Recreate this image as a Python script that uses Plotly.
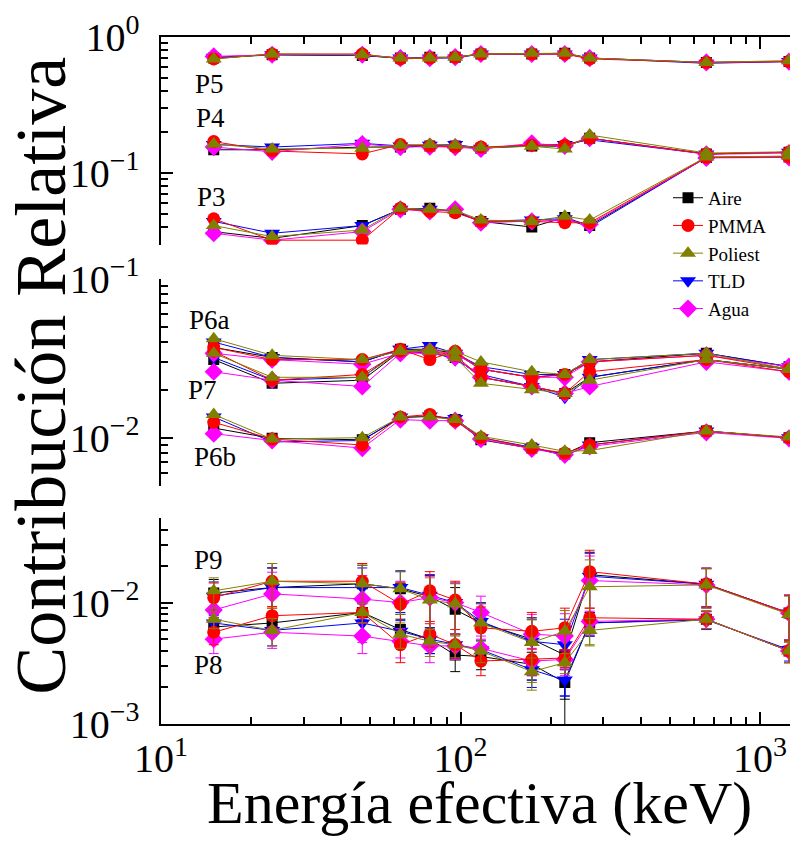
import math
import plotly.graph_objects as go

# ---------------- data ----------------
energy = [15, 23.5, 47, 63, 79, 96, 117, 173, 223, 270, 662, 1250]

materials = ["Aire", "PMMA", "Poliest", "TLD", "Agua"]

# P5
p5_aire    = [0.70, 0.74, 0.73, 0.70, 0.71, 0.71, 0.75, 0.75, 0.76, 0.70, 0.65, 0.66]
p5_pmma    = [0.69, 0.75, 0.75, 0.69, 0.70, 0.71, 0.75, 0.75, 0.75, 0.69, 0.65, 0.66]
p5_poliest = [0.69, 0.75, 0.74, 0.70, 0.70, 0.71, 0.75, 0.76, 0.76, 0.70, 0.65, 0.67]
p5_tld     = [0.71, 0.74, 0.73, 0.70, 0.70, 0.70, 0.75, 0.75, 0.75, 0.70, 0.64, 0.66]
p5_agua    = [0.72, 0.74, 0.74, 0.70, 0.70, 0.71, 0.75, 0.75, 0.75, 0.70, 0.65, 0.66]

# P4
p4_aire    = [0.148, 0.148, 0.155, 0.155, 0.158, 0.158, 0.152, 0.158, 0.157, 0.180, 0.138, 0.142]
p4_pmma    = [0.170, 0.145, 0.138, 0.162, 0.158, 0.156, 0.155, 0.160, 0.160, 0.180, 0.138, 0.142]
p4_poliest = [0.163, 0.150, 0.152, 0.160, 0.162, 0.160, 0.153, 0.157, 0.150, 0.190, 0.140, 0.143]
p4_tld     = [0.162, 0.155, 0.165, 0.158, 0.160, 0.162, 0.152, 0.160, 0.162, 0.175, 0.138, 0.142]
p4_agua    = [0.155, 0.143, 0.163, 0.155, 0.156, 0.155, 0.150, 0.165, 0.158, 0.180, 0.137, 0.140]

# P3
p3_aire    = [0.037, 0.033, 0.041, 0.054, 0.055, 0.052, 0.044, 0.040, 0.047, 0.041, 0.130, 0.131]
p3_pmma    = [0.046, 0.032, 0.032, 0.055, 0.052, 0.051, 0.044, 0.044, 0.043, 0.043, 0.130, 0.131]
p3_poliest = [0.041, 0.034, 0.038, 0.055, 0.054, 0.053, 0.045, 0.044, 0.048, 0.045, 0.131, 0.133]
p3_tld     = [0.044, 0.036, 0.041, 0.054, 0.054, 0.052, 0.044, 0.045, 0.046, 0.040, 0.130, 0.131]
p3_agua    = [0.036, 0.032, 0.037, 0.054, 0.052, 0.054, 0.043, 0.044, 0.045, 0.042, 0.129, 0.130]

# P6a
p6a_aire    = [0.037, 0.032, 0.030, 0.036, 0.036, 0.034, 0.027, 0.024, 0.025, 0.030, 0.034, 0.028]
p6a_pmma    = [0.037, 0.031, 0.031, 0.036, 0.031, 0.035, 0.027, 0.024, 0.025, 0.030, 0.033, 0.027]
p6a_poliest = [0.042, 0.033, 0.031, 0.035, 0.036, 0.035, 0.030, 0.026, 0.025, 0.031, 0.034, 0.027]
p6a_tld     = [0.040, 0.032, 0.030, 0.036, 0.038, 0.034, 0.028, 0.025, 0.025, 0.031, 0.034, 0.028]
p6a_agua    = [0.034, 0.031, 0.029, 0.034, 0.035, 0.034, 0.027, 0.024, 0.024, 0.030, 0.033, 0.028]

# P7
p7_aire    = [0.031, 0.022, 0.023, 0.035, 0.034, 0.032, 0.024, 0.021, 0.019, 0.024, 0.031, 0.027]
p7_pmma    = [0.035, 0.023, 0.025, 0.035, 0.035, 0.033, 0.024, 0.021, 0.019, 0.026, 0.031, 0.026]
p7_poliest = [0.034, 0.024, 0.024, 0.035, 0.035, 0.032, 0.022, 0.020, 0.019, 0.023, 0.031, 0.027]
p7_tld     = [0.032, 0.023, 0.024, 0.036, 0.035, 0.031, 0.025, 0.021, 0.018, 0.024, 0.031, 0.027]
p7_agua    = [0.026, 0.023, 0.021, 0.034, 0.034, 0.032, 0.024, 0.021, 0.019, 0.021, 0.030, 0.026]

# P6b
p6b_aire    = [0.0115, 0.0099, 0.0097, 0.0133, 0.0137, 0.0130, 0.0097, 0.0086, 0.0079, 0.0093, 0.0110, 0.0100]
p6b_pmma    = [0.0125, 0.0098, 0.0090, 0.0135, 0.0140, 0.0128, 0.0100, 0.0086, 0.0080, 0.0090, 0.0110, 0.0100]
p6b_poliest = [0.0140, 0.0098, 0.0100, 0.0135, 0.0135, 0.0130, 0.0102, 0.0090, 0.0082, 0.0083, 0.0110, 0.0101]
p6b_tld     = [0.0135, 0.0094, 0.0096, 0.0135, 0.0137, 0.0132, 0.0100, 0.0087, 0.0077, 0.0090, 0.0110, 0.0100]
p6b_agua    = [0.0106, 0.0096, 0.0086, 0.0130, 0.0128, 0.0128, 0.0098, 0.0085, 0.0078, 0.0088, 0.0108, 0.0099]

# P9
p9_aire    = [0.0120, 0.0133, 0.0143, 0.0130, 0.0112, 0.0088, 0.0068, 0.0050, 0.0037, 0.0170, 0.0142, 0.0082]
p9_pmma    = [0.0110, 0.0150, 0.0150, 0.0097, 0.0125, 0.0105, 0.0062, 0.0058, 0.0062, 0.0180, 0.0142, 0.0082]
p9_poliest = [0.0125, 0.0150, 0.0143, 0.0130, 0.0105, 0.0098, 0.0068, 0.0047, 0.0058, 0.0135, 0.0140, 0.0080]
p9_tld     = [0.0113, 0.0133, 0.0133, 0.0133, 0.0115, 0.0100, 0.0070, 0.0048, 0.0045, 0.0165, 0.0142, 0.0082]
p9_agua    = [0.0087, 0.0118, 0.0107, 0.0100, 0.0110, 0.0100, 0.0083, 0.0055, 0.0053, 0.0152, 0.0140, 0.0082]
p9_err     = [0.0035, 0.0060, 0.0060, 0.0050, 0.0055, 0.0045, 0.0030, 0.0025, 0.0028, 0.0090, 0.0050, 0.0033]

# P8
p8_aire    = [0.0063, 0.0068, 0.0083, 0.0060, 0.0050, 0.0037, 0.0036, 0.0031, 0.0022, 0.0068, 0.0073, 0.0040]
p8_pmma    = [0.0057, 0.0078, 0.0083, 0.0045, 0.0055, 0.0045, 0.0033, 0.0034, 0.0035, 0.0075, 0.0073, 0.0040]
p8_poliest = [0.0073, 0.0059, 0.0083, 0.0055, 0.0048, 0.0045, 0.0040, 0.0027, 0.0032, 0.0059, 0.0073, 0.0040]
p8_tld     = [0.0068, 0.0059, 0.0068, 0.0058, 0.0050, 0.0045, 0.0041, 0.0028, 0.0023, 0.0068, 0.0072, 0.0041]
p8_agua    = [0.0050, 0.0057, 0.0053, 0.0048, 0.0044, 0.0044, 0.0042, 0.0033, 0.0034, 0.0070, 0.0073, 0.0040]
p8_err     = [0.0012, 0.0015, 0.0015, 0.0013, 0.0012, 0.0010, 0.0008, 0.0008, 0.0006, 0.0015, 0.0012, 0.0008]

# tick label aliases (plotly default log labels -> reference style)
tick_alias = {"1": "10<sup>0</sup>", "10": "10<sup>1</sup>"}

group_labels = ["P5", "P4", "P3", "P6a", "P7", "P6b", "P9", "P8"]

# ---------------- styling ----------------
FONT = "Liberation Serif, 'Times New Roman', Times, 'DejaVu Serif', serif"
W, H = 798, 841
L, R, T, B = 153, 0, 29, 124.5
PW, PH = W - L - R, H - T - B
MINOR_LEN = 7


def px_x(px):
    return (px - L) / PW


def px_y(py):
    return (H - B - py) / PH


style = {
    "Aire":    dict(color="#000000", symbol="square", size=11, rank=1),
    "PMMA":    dict(color="#FF0000", symbol="circle", size=13, rank=2),
    "Poliest": dict(color="#808000", symbol="triangle-up", size=14, rank=3),
    "TLD":     dict(color="#0000FF", symbol="triangle-down", size=14, rank=4),
    "Agua":    dict(color="#FF00FF", symbol="diamond", size=14, rank=5),
}

panel1 = {"P5": [p5_aire, p5_pmma, p5_poliest, p5_tld, p5_agua],
          "P4": [p4_aire, p4_pmma, p4_poliest, p4_tld, p4_agua],
          "P3": [p3_aire, p3_pmma, p3_poliest, p3_tld, p3_agua]}
panel2 = {"P6a": [p6a_aire, p6a_pmma, p6a_poliest, p6a_tld, p6a_agua],
          "P7": [p7_aire, p7_pmma, p7_poliest, p7_tld, p7_agua],
          "P6b": [p6b_aire, p6b_pmma, p6b_poliest, p6b_tld, p6b_agua]}
panel3 = {"P9": [p9_aire, p9_pmma, p9_poliest, p9_tld, p9_agua],
          "P8": [p8_aire, p8_pmma, p8_poliest, p8_tld, p8_agua]}
errors3 = {"P9": p9_err, "P8": p8_err}

draw_order = ["Aire", "TLD", "Agua", "PMMA", "Poliest"]

fig = go.Figure()
shown = set()

for panel, xa, ya, errs in [(panel1, "x2", "y", None), (panel2, "x3", "y2", None), (panel3, "x", "y3", errors3)]:
    for mat in draw_order:
        idx = materials.index(mat)
        st = style[mat]
        for grp, series in panel.items():
            vals = series[idx]
            err = None
            if errs is not None:
                err = dict(type="data", array=errs[grp], visible=True, color=st["color"],
                           thickness=1, width=5)
            fig.add_trace(go.Scatter(
                x=energy, y=vals, mode="lines+markers", xaxis=xa, yaxis=ya,
                name=mat, legendgroup=mat, legendrank=st["rank"],
                showlegend=(mat not in shown),
                line=dict(color=st["color"], width=1),
                marker=dict(color=st["color"], symbol=st["symbol"], size=st["size"], line=dict(width=0)),
                error_y=err,
            ))
            shown.add(mat)


xr = [1, 1 + (W - L) / 299.5]
axis_common = dict(type="log", showline=True, linewidth=2, linecolor="black", ticks="inside",
                   ticklen=12, tickwidth=2, tickcolor="black", showgrid=False, zeroline=False,
                   tickmode="linear", tick0=0, dtick=1, exponentformat="power", labelalias=tick_alias,
                   tickfont=dict(family=FONT, size=32, color="black"))

y_panels = [  # (yaxis name, x axis name, log range, top px, bottom px)
    ("y", "x2", [-1.527, 0], 29, 236.7),
    ("y2", "x3", [-2.304, -1], 271, 478.3),
    ("y3", "x", [-3, -1.30], 510, 716.5),
]


def ydom(i):
    return [px_y(y_panels[i][4]), px_y(y_panels[i][3])]


def yaxis(rng, dom, anchor):
    return dict(**axis_common, range=rng, domain=dom, anchor=anchor, mirror="ticks",
                ticklabelstandoff=13)


def minor_values(rng):
    out = []
    for d in range(int(math.floor(rng[0])) - 1, int(math.ceil(rng[1])) + 1):
        for m in range(2, 10):
            v = m * 10.0 ** d
            if rng[0] < math.log10(v) <= rng[1] + 0.0005:
                out.append(v)
    return out


# overlay axes that only carry the minor ticks (2..9 x 10^n)
minor_axis = dict(type="log", showline=False, showgrid=False, zeroline=False, ticks="inside",
                  ticklen=MINOR_LEN, tickwidth=2, tickcolor="black", showticklabels=False,
                  tickmode="array")

fig.update_layout(
    xaxis=dict(**axis_common, range=xr, domain=[0, 1], anchor="y3", ticklabelstandoff=0),
    xaxis2=dict(**axis_common, range=xr, domain=[0, 1], anchor="y", side="top", showticklabels=False),
    xaxis3=dict(type="log", range=xr, domain=[0, 1], anchor="y2", visible=False),
    yaxis=yaxis(y_panels[0][2], ydom(0), "x2"),
    yaxis2=yaxis(y_panels[1][2], ydom(1), "x3"),
    yaxis3=yaxis(y_panels[2][2], ydom(2), "x"),
    # minor-tick overlays
    xaxis4=dict(**minor_axis, range=xr, overlaying="x", anchor="y3", side="bottom",
                tickvals=minor_values(xr)),
    xaxis5=dict(**minor_axis, range=xr, overlaying="x2", anchor="y", side="top",
                tickvals=minor_values(xr)),
    yaxis4=dict(**minor_axis, range=y_panels[0][2], overlaying="y", anchor="x2", side="left",
                mirror="ticks", tickvals=minor_values(y_panels[0][2])),
    yaxis5=dict(**minor_axis, range=y_panels[1][2], overlaying="y2", anchor="x3", side="left",
                mirror="ticks", tickvals=minor_values(y_panels[1][2])),
    yaxis6=dict(**minor_axis, range=y_panels[2][2], overlaying="y3", anchor="x", side="left",
                mirror="ticks", tickvals=minor_values(y_panels[2][2])),
)

# empty helper traces so the overlay axes are instantiated
for xa, ya in [("x4", "y3"), ("x5", "y"), ("x2", "y4"), ("x3", "y5"), ("x", "y6")]:
    fig.add_trace(go.Scatter(x=[], y=[], xaxis=xa, yaxis=ya, showlegend=False, hoverinfo="skip"))

annotations = []
label_pos = {"P5": (201, 76), "P4": (202, 110), "P3": (203, 189), "P6a": (201, 312),
             "P7": (194, 382), "P6b": (207, 449), "P9": (200, 552), "P8": (200, 657)}
for lab in group_labels:
    px, py = label_pos[lab]
    annotations.append(dict(text=lab, x=px_x(px), y=px_y(py), xref="paper", yref="paper",
                            xanchor="center", yanchor="middle", showarrow=False,
                            font=dict(family=FONT, size=27, color="black")))

annotations.append(dict(text="Contribución Relativa", x=px_x(33), y=px_y(368), xref="paper", yref="paper",
                        xanchor="center", yanchor="middle", showarrow=False, textangle=-90,
                        font=dict(family=FONT, size=72, color="black")))
annotations.append(dict(text="Energía efectiva (keV)", x=px_x(471), y=px_y(796), xref="paper", yref="paper",
                        xanchor="center", yanchor="middle", showarrow=False,
                        font=dict(family=FONT, size=60, color="black")))

fig.update_layout(
    width=W, height=H,
    margin=dict(l=L, r=R, t=T, b=B, autoexpand=False),
    paper_bgcolor="white", plot_bgcolor="white",
    annotations=annotations,
    legend=dict(x=px_x(660), y=px_y(171), xanchor="left", yanchor="top", xref="paper", yref="paper",
                bgcolor="rgba(0,0,0,0)", borderwidth=0, tracegroupgap=0, itemwidth=30,
                font=dict(family=FONT, size=19, color="black")),
    font=dict(family=FONT),
)

fig.write_html("out.html")
